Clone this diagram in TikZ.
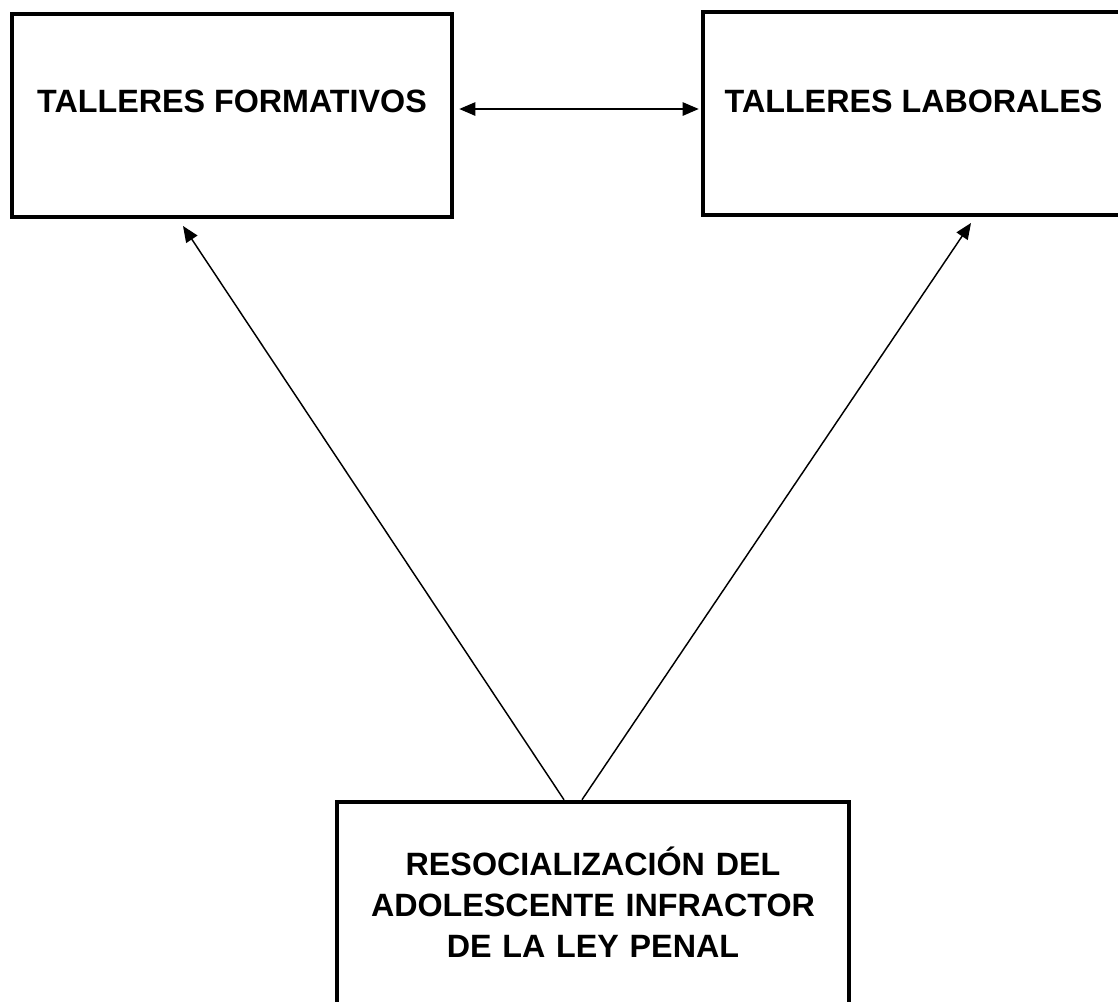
\documentclass[tikz,border=0pt]{standalone}
\usepackage{fontspec}
\setmainfont{Liberation Sans}
\usetikzlibrary{arrows.meta, calc}
\tikzstyle{box}=[draw, rectangle, line width=3.4pt, inner sep=0pt, font=\fontsize{24.2}{31}\selectfont\bfseries]
\tikzstyle{link}=[line width=1.1pt, -{Triangle[length=12pt, width=10pt]}]
\tikzstyle{twoway}=[line width=1.1pt, {Triangle[length=12pt, width=10pt]}-{Triangle[length=12pt, width=10pt]}]

\begin{document}
\begin{tikzpicture}[x=0.75pt, y=-0.75pt]
    \useasboundingbox (0,0) rectangle (1118,1001);
    \node [box, minimum width=330pt, text height=73.5pt, text depth=78.75pt] (form) at (232,115.5) {TALLERES FORMATIVOS};
    \node [box, minimum width=315.75pt, text height=75pt, text depth=77.25pt] (lab) at (913.5,113.5) {TALLERES LABORALES};
    \node [box, text width=384pt, align=center, text height=54.75pt, text depth=101.25pt] (res) at (593,906) {RESOCIALIZACIÓN DEL\\ ADOLESCENTE INFRACTOR\\ DE LA LEY PENAL};
    \draw [twoway] ($(form.east)+(5,-6.5)$) -- ($(lab.west)+(-2,-4.5)$);
    \draw [link] ($(res.north)+(-29,0)$) -- ($(form.south)+(-49,6.7)$);
    \draw [link] ($(res.north)+(-11,0)$) -- ($(lab.south)+(57.5,5.7)$);
\end{tikzpicture}
\end{document}
